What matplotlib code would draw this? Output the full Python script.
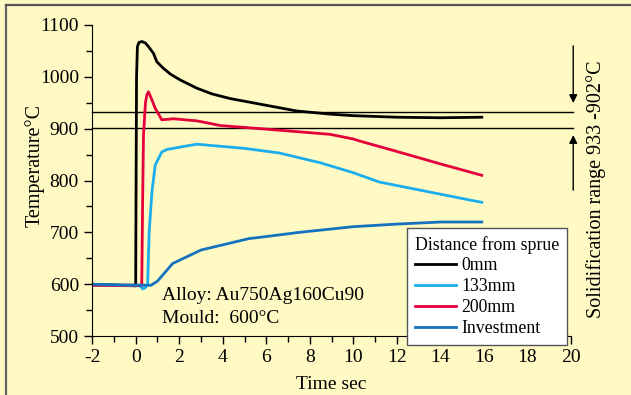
import matplotlib.pyplot as plt
from matplotlib.lines import Line2D
import numpy as np

plt.rcParams['font.family'] = ['Liberation Serif', 'DejaVu Serif']
plt.rcParams['axes.unicode_minus'] = False

bg = '#FFF9C4'

# cooling curves, time in sec, temperature in deg C
t_0mm = [-2, 0, 0.04, 0.08, 0.15, 0.28, 0.45, 0.59, 0.82, 0.97, 1.28, 1.6, 2.04, 2.81,
         3.5, 4.34, 5.87, 7.4, 8.93, 10, 12, 14, 15.9]
y_0mm = [600, 597, 1000, 1058, 1066, 1068, 1065, 1058, 1045, 1029, 1016, 1005, 994, 978,
         967, 958, 946, 934, 928, 925, 922, 921, 922]

t_133 = [-2, 0.2, 0.33, 0.45, 0.55, 0.62, 0.75, 0.9, 1.2, 1.45, 2.8, 5, 6.6, 8.5, 10, 11.2, 13, 15.4, 15.9]
y_133 = [598, 597, 591, 594, 600, 700, 780, 830, 855, 860, 870, 862, 853, 834, 815, 797, 782, 762, 758]

t_200 = [-2, 0.28, 0.32, 0.36, 0.45, 0.52, 0.59, 0.75, 0.9, 1.2, 1.74, 2.81, 3.42, 3.88, 6, 8.93, 10, 10.3, 12, 14, 15.9]
y_200 = [598, 598, 760, 888, 950, 966, 971, 955, 939, 917, 919, 915, 910, 906, 899, 889, 880, 876, 856, 832, 810]

t_inv = [-2, 0.7, 1.0, 1.7, 3.0, 4.0, 5.2, 6.0, 7.5, 10, 12, 14, 15.9]
y_inv = [600, 598, 606, 640, 666, 676, 688, 692, 700, 711, 716, 720, 720]

sol_hi = 933
sol_lo = 902

fig = plt.figure(figsize=(6.31, 3.95), dpi=100, facecolor=bg)
ax = fig.add_axes([0.146, 0.149, 0.759, 0.788])
ax.set_facecolor(bg)

ax.plot(t_0mm, y_0mm, color='black', lw=2, label='0mm')
ax.plot(t_133, y_133, color='#1CAEEC', lw=2, label='133mm')
ax.plot(t_200, y_200, color='#E4003A', lw=2, label='200mm')
ax.plot(t_inv, y_inv, color='#1572BE', lw=2, label='Investment')

# solidification range lines
for v in (sol_hi, sol_lo):
    ax.plot([-2, 20.1], [v, v], color='black', lw=1, clip_on=False, zorder=1)

ax.annotate('', xy=(20.1, 944), xytext=(20.1, 1065), annotation_clip=False,
            arrowprops=dict(arrowstyle='-|>', color='black', lw=1, mutation_scale=12))
ax.annotate('', xy=(20.1, 893), xytext=(20.1, 776), annotation_clip=False,
            arrowprops=dict(arrowstyle='-|>', color='black', lw=1, mutation_scale=12))
fig.text(0.945, 0.522, 'Solidification range 933 -902°C', rotation=90,
         ha='center', va='center', fontsize=14.5)

ax.text(1.2, 579, 'Alloy: Au750Ag160Cu90', fontsize=14, va='center')
ax.text(1.2, 534, 'Mould:  600°C', fontsize=14, va='center')

ax.set_xlim(-2, 20)
ax.set_ylim(500, 1100)
ax.set_xticks(np.arange(-2, 21, 2))
ax.set_xticks(np.arange(-2, 21, 1), minor=True)
ax.set_yticks(np.arange(500, 1101, 100))
ax.set_yticks(np.arange(500, 1101, 50), minor=True)
ax.tick_params(which='major', direction='out', length=6, width=1, labelsize=14)
ax.tick_params(which='minor', direction='out', length=4, width=1)
ax.spines['top'].set_visible(False)
ax.spines['right'].set_visible(False)
ax.set_xlabel('Time sec', fontsize=14)
ax.set_ylabel('Temperature°C', fontsize=14.5)
ax.xaxis.set_label_coords(0.5, -0.127)
ax.yaxis.set_label_coords(-0.100, 0.547)

leg = ax.legend(title='Distance from sprue', loc='lower right',
                bbox_to_anchor=(0.992, -0.029), borderaxespad=0,
                fontsize=12.8, title_fontsize=12.8,
                frameon=True, fancybox=False, edgecolor='#555555', framealpha=1,
                facecolor='white', handlelength=2.3, handletextpad=0.3,
                labelspacing=0.22, borderpad=0.45, alignment='left')
leg.get_frame().set_linewidth(1)
leg.set_zorder(5)

# frame round the figure (only left and top are visible)
fig.add_artist(Line2D([0.0095, 0.0095], [0, 0.987], transform=fig.transFigure,
                      color='#666666', lw=1.6))
fig.add_artist(Line2D([0.0095, 1], [0.987, 0.987], transform=fig.transFigure,
                      color='#555555', lw=1.6))

fig.savefig('out.png', dpi=100, facecolor=bg)
